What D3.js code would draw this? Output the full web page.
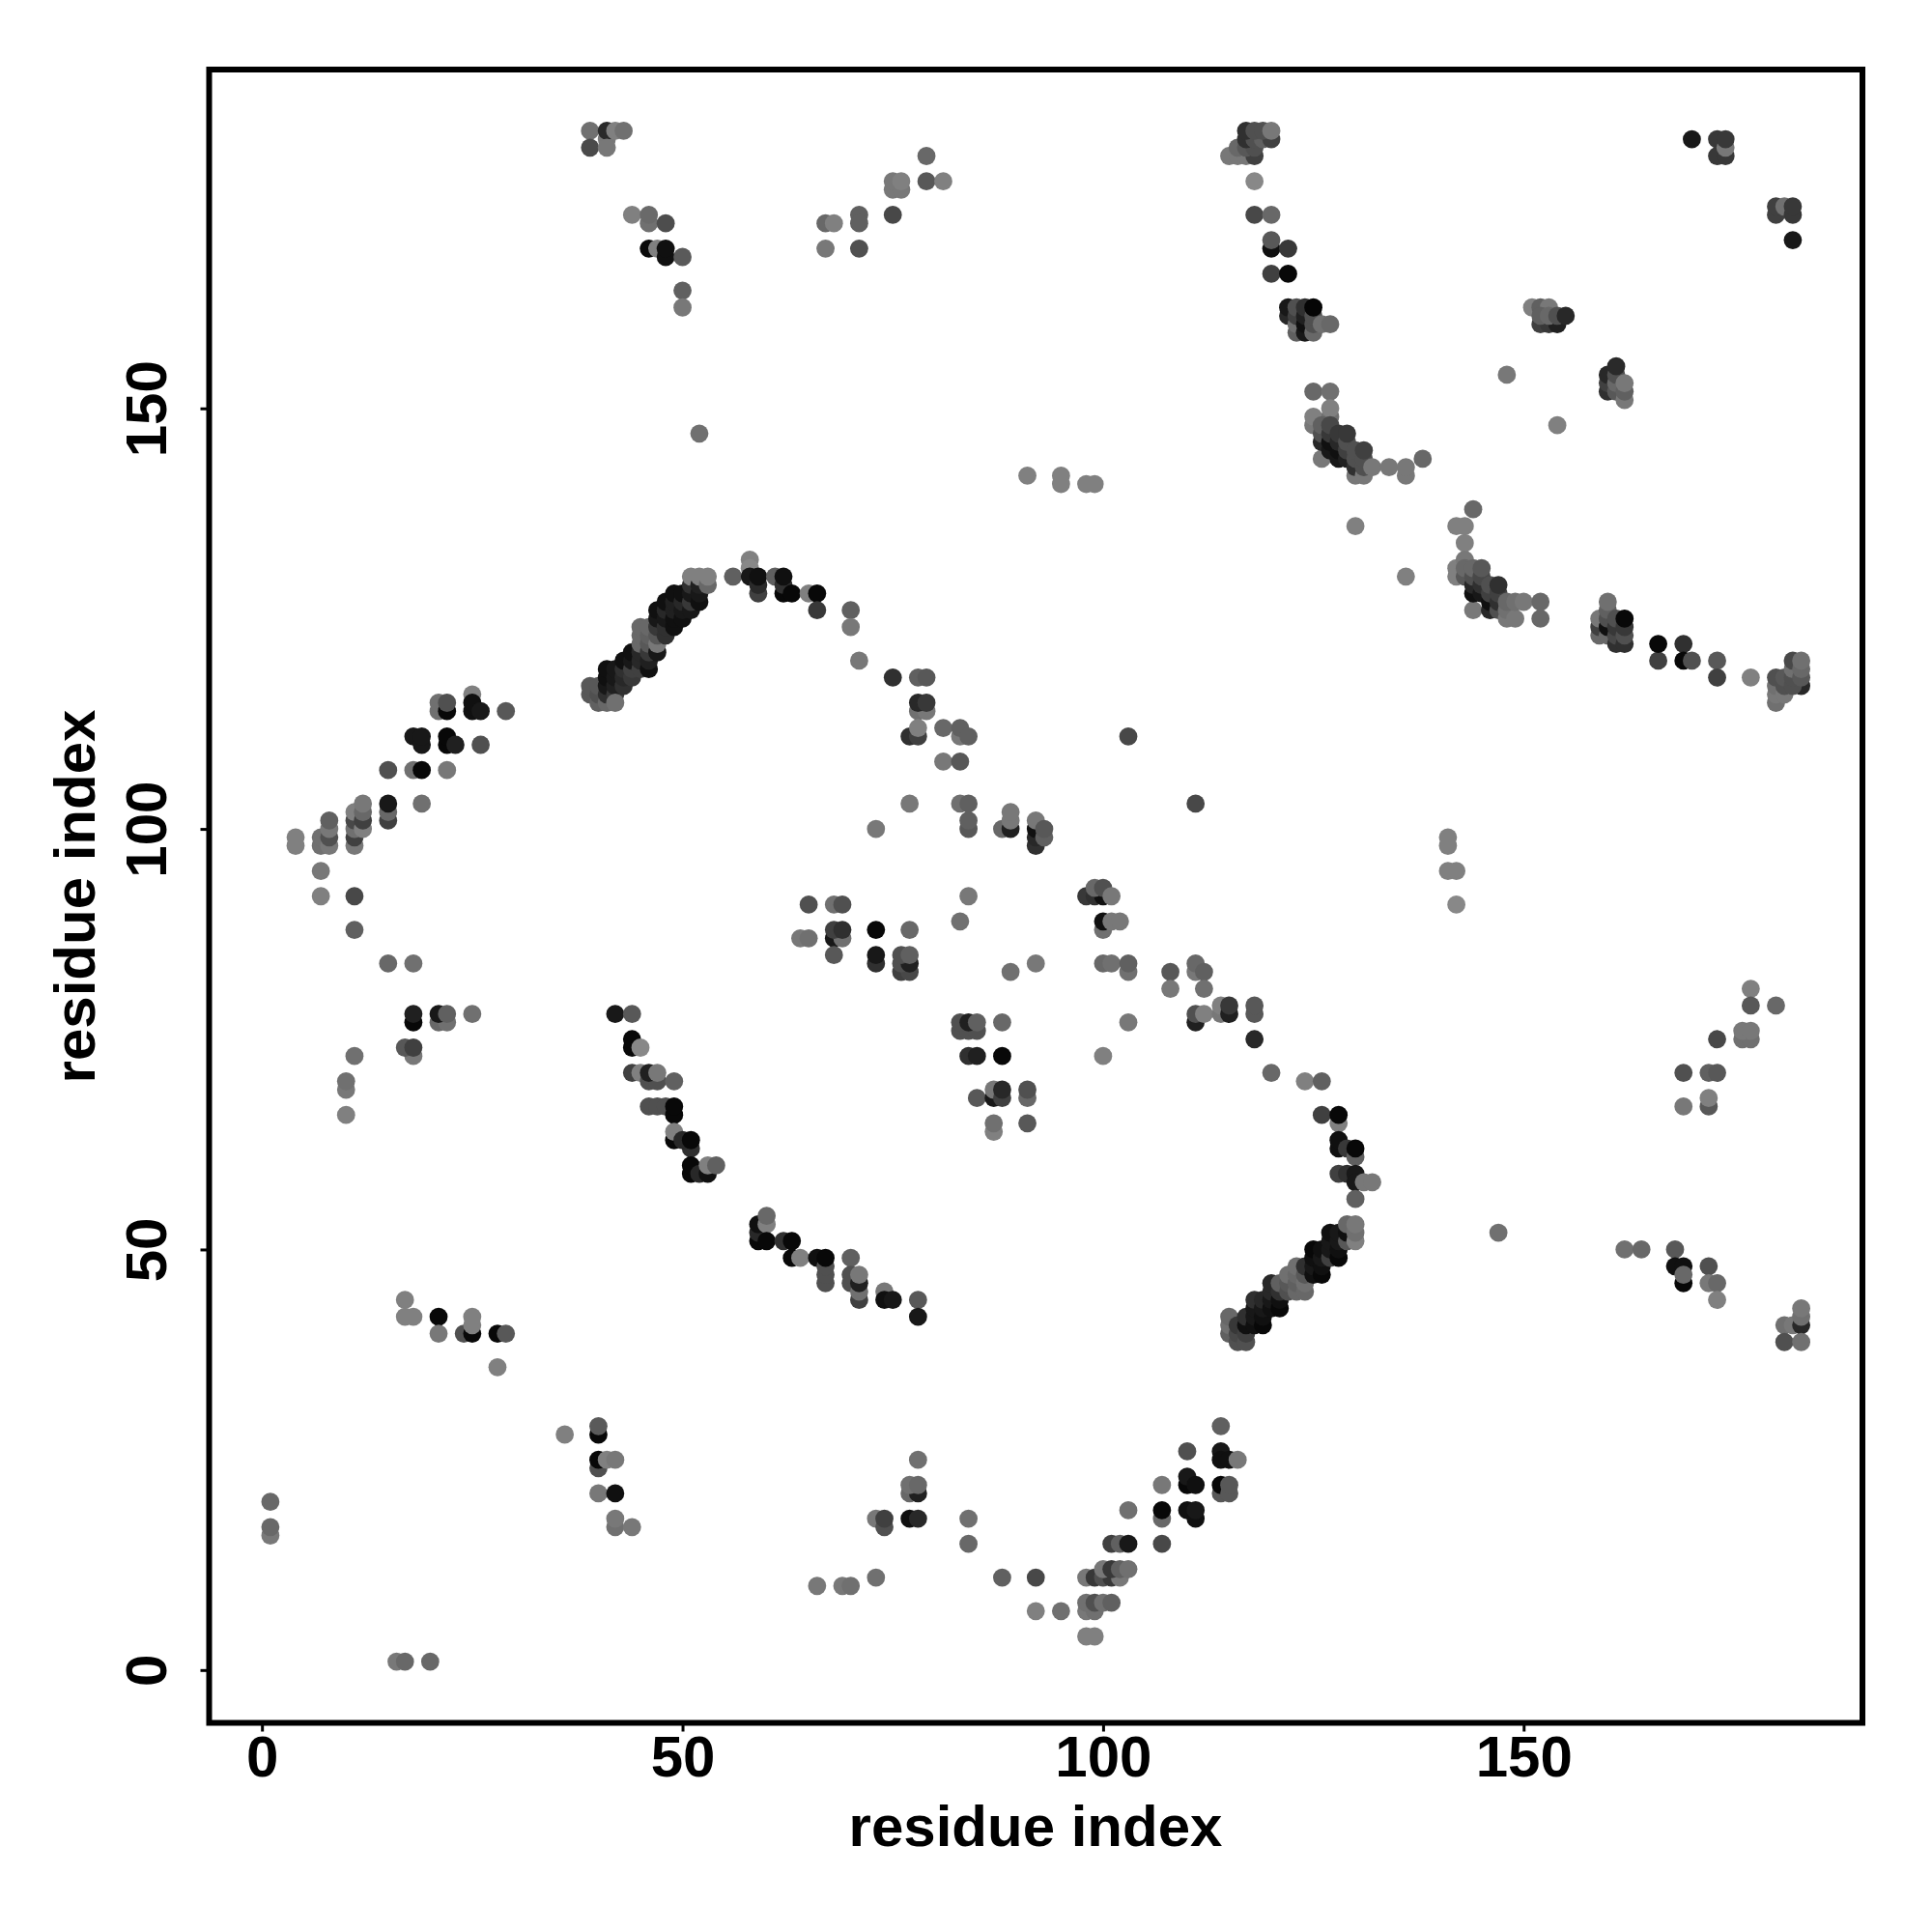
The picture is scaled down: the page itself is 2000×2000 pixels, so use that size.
<!DOCTYPE html>
<html><head><meta charset="utf-8">
<script src="https://cdn.jsdelivr.net/npm/d3@7/dist/d3.min.js"></script>
<style>html,body{margin:0;padding:0;background:#fff}svg{display:block}</style>
</head><body><svg id="c" width="2000" height="2000"></svg>
<script>
// each contact: [residue i, residue j, shade level (0 = black, 255 = white)]
const topLeftContacts = [[39,183,0x70],[41,182,0x78],[41,183,0x2a],[42,183,0x80],[43,183,0x70],[39,181,0x4a],[41,181,0x78],
 [44,173,0x80],[46,172,0x70],[46,173,0x6a],[48,172,0x4d],[46,169,0x0a],[47,169,0x80],[48,168,0x10],[48,169,0x10],[50,168,0x5a],[50,164,0x60],[50,162,0x78],[52,147,0x70]];
const topMiddleContacts = [[67,172,0x68],[68,172,0x80],[71,173,0x60],[71,172,0x60],[67,169,0x78],[71,169,0x50],[75,173,0x48],
 [75,176,0x78],[76,176,0x78],[75,177,0x78],[76,177,0x80],[79,177,0x58],[81,177,0x80],[79,180,0x68],
 [91,142,0x80],[95,141,0x80],[95,142,0x80],[98,141,0x80],[99,141,0x80]];
const cornerContacts = [[115,180,0x78],[116,180,0x78],[117,180,0x78],[118,180,0x40],[116,181,0x68],[117,181,0x58],[118,181,0x50],
 [117,182,0x30],[118,182,0x50],[119,182,0x60],[120,182,0x40],[117,183,0x30],[118,183,0x50],[119,183,0x50],[120,183,0x78],
 [118,177,0x88],[118,173,0x48],[120,173,0x68],[120,169,0x10],[120,170,0x58],[122,169,0x38],[120,166,0x40],[122,166,0x08]];
const shoulderContacts = [[122,161,0x28],[122,162,0x18],[123,159,0x60],[123,160,0x70],[123,161,0x40],[123,162,0x50],[124,159,0x18],[124,160,0x10],[124,161,0x20],[124,162,0x30],
 [125,159,0x68],[125,160,0x50],[125,161,0x50],[125,162,0x05],[126,160,0x70],[127,160,0x68]];
const upperBandContacts = [[125,152,0x68],[127,152,0x70],[125,148,0x78],[125,149,0x80],[127,149,0x70],[127,150,0x80],
 [126,144,0x78],[126,146,0x28],[126,147,0x50],[126,148,0x60],[127,145,0x18],[127,146,0x10],[127,147,0x38],[127,148,0x48],
 [128,144,0x18],[128,145,0x10],[128,146,0x28],[128,147,0x38],[129,144,0x20],[129,145,0x40],[129,146,0x50],[129,147,0x38],
 [130,142,0x78],[130,143,0x30],[130,144,0x50],[130,145,0x50],[131,142,0x78],[131,143,0x50],[131,144,0x50],[131,145,0x40],
 [132,143,0x78],[134,143,0x78],[136,142,0x78],[136,143,0x78],[138,144,0x68],[130,136,0x80],[136,130,0x80]];
const lowerBandContacts = [[144,138,0x68],[142,136,0x80],[143,136,0x80],[143,134,0x80],[142,130,0x80],[142,131,0x80],[143,132,0x78],[143,130,0x58],[143,131,0x68],
 [144,126,0x78],[144,128,0x10],[144,129,0x28],[144,130,0x50],[144,131,0x68],[145,128,0x18],[145,129,0x30],[145,130,0x48],[145,131,0x58],
 [146,126,0x28],[146,127,0x10],[146,128,0x40],[146,129,0x50],[147,126,0x50],[147,127,0x30],[147,128,0x40],[147,129,0x30],
 [148,125,0x78],[148,126,0x70],[148,127,0x68],[149,125,0x78],[149,127,0x70],[150,127,0x78],[152,125,0x68],[152,127,0x68]];
const upperRightContacts = [[148,154,0x78],[154,148,0x80],[151,162,0x80],[152,162,0x60],[153,162,0x78],[152,160,0x40],[153,160,0x38],[154,160,0x20],[152,161,0x60],[153,161,0x68],[154,161,0x50],[155,161,0x28],
 [170,182,0x18],[173,180,0x38],[174,180,0x38],[173,182,0x38],[174,181,0x78],[174,182,0x38],[180,173,0x40],[180,174,0x40],[181,174,0x70],[182,173,0x38],[182,174,0x38],[182,170,0x18],
 [160,152,0x30],[160,153,0x40],[160,154,0x28],[161,152,0x58],[161,153,0x68],[161,154,0x50],[161,155,0x2a],[162,151,0x78],[162,152,0x60],[162,153,0x78]];
const rightTailContacts = [[159,123,0x68],[159,124,0x40],[159,125,0x78],[160,123,0x68],[160,124,0x10],[160,125,0x50],[160,126,0x60],[160,127,0x70],
 [161,122,0x30],[161,123,0x48],[161,124,0x38],[161,125,0x50],[162,122,0x30],[162,123,0x50],[162,124,0x38],[162,125,0x08],
 [166,120,0x40],[166,122,0x08],[169,122,0x30],[169,120,0x08],[170,120,0x50],[173,120,0x58],[173,118,0x40],[177,118,0x80],
 [180,115,0x70],[180,116,0x78],[180,117,0x70],[180,118,0x50],[181,116,0x78],[181,117,0x50],[181,118,0x58],
 [183,117,0x28],[182,117,0x50],[182,118,0x50],[182,119,0x70],[182,120,0x48],[183,118,0x58],[183,119,0x68],[183,120,0x70]];
const rightMiddleContacts = [[141,99,0x80],[141,98,0x80],[141,95,0x80],[142,95,0x80],[142,91,0x88],[177,81,0x80],[177,79,0x58],[180,79,0x68],
 [176,75,0x70],[177,75,0x70],[176,76,0x78],[177,76,0x78],[173,75,0x48],[169,71,0x50],[172,71,0x60],[173,71,0x58],[172,67,0x58],[172,68,0x80],[169,67,0x78],[147,52,0x70],
 [162,50,0x70],[164,50,0x68],[168,50,0x58],[168,48,0x10],[169,48,0x10],[169,46,0x08],[169,47,0x68]];
const lowerRightContacts = [[172,48,0x50],[172,46,0x78],[173,46,0x68],[173,44,0x80],
 [181,41,0x70],[182,41,0x78],[183,41,0x28],[183,42,0x70],[183,43,0x78],[181,39,0x50],[183,39,0x70]];
const ridgeContacts = [[120,71,0x68],[124,70,0x80],[126,70,0x60],[126,66,0x40],[128,65,0x80],[128,66,0x08],[128,62,0x10],[128,63,0x10],[129,62,0x38],[130,61,0x60],[130,62,0x08],
 [128,59,0x40],[129,59,0x30],[130,59,0x18],[130,58,0x18],[131,58,0x78],[132,58,0x78],[130,56,0x60]];
const rightArcContacts = [[115,40,0x60],[115,41,0x70],[115,42,0x68],[116,39,0x50],[116,40,0x48],[116,41,0x38],[117,39,0x50],[117,40,0x40],[117,41,0x10],[117,42,0x30],
 [118,41,0x10],[118,42,0x18],[118,43,0x18],[118,44,0x30],[119,41,0x08],[119,42,0x10],[119,43,0x18],[119,44,0x28],
 [120,43,0x10],[120,44,0x18],[120,45,0x28],[120,46,0x28],[121,43,0x08],[121,44,0x10],[121,45,0x30],[121,46,0x60],
 [122,45,0x50],[122,46,0x58],[122,47,0x70],[123,45,0x68],[123,46,0x60],[123,47,0x68],[123,48,0x70],[124,45,0x68],[124,46,0x70],[124,47,0x58],[124,48,0x30],
 [125,47,0x10],[125,48,0x18],[125,49,0x10],[125,50,0x08],[126,47,0x08],[126,48,0x10],[126,49,0x18],[126,50,0x10],
 [127,49,0x40],[127,50,0x18],[127,51,0x18],[127,52,0x10],[128,49,0x08],[128,50,0x10],[128,51,0x18],[128,52,0x18],
 [129,51,0x58],[129,52,0x10],[129,53,0x68],[130,51,0x80],[130,52,0x70],[130,53,0x78]];
const leftArcContacts = [[39,116,0x58],[39,117,0x58],[40,115,0x60],[40,116,0x50],[40,117,0x58],[41,115,0x68],[41,116,0x30],[41,117,0x18],[41,118,0x10],[41,119,0x10],
 [42,116,0x38],[42,117,0x20],[42,118,0x18],[42,119,0x18],[42,115,0x70],[43,117,0x30],[43,118,0x28],[43,119,0x30],[43,120,0x10],
 [44,118,0x38],[44,119,0x40],[44,120,0x18],[44,121,0x10],[45,119,0x40],[45,120,0x28],[45,121,0x28],[45,122,0x68],[45,123,0x68],[45,124,0x68],
 [46,119,0x10],[46,120,0x20],[46,121,0x38],[46,122,0x58],[46,123,0x60],[46,124,0x68],[47,121,0x18],[47,122,0x78],[47,123,0x58],[47,124,0x38],[47,125,0x18],[47,126,0x10],
 [48,123,0x30],[48,124,0x30],[48,125,0x18],[48,126,0x28],[48,127,0x10],[49,124,0x10],[49,125,0x10],[49,126,0x20],[49,127,0x20],[49,128,0x10],
 [50,125,0x10],[50,126,0x18],[50,127,0x28],[50,128,0x10],[51,126,0x18],[51,127,0x38],[51,128,0x18],[51,129,0x30],[51,130,0x80],
 [52,127,0x10],[52,128,0x18],[52,129,0x20],[52,130,0x80],[53,129,0x68],[53,130,0x80]];
const crestContacts = [[56,130,0x60],[58,132,0x80],[58,131,0x88],[58,130,0x18],[59,128,0x40],[59,129,0x2a],[59,130,0x10],[61,130,0x60],[62,128,0x08],[62,129,0x30],[62,130,0x10],[63,128,0x08],[65,128,0x80],[66,128,0x08],[66,126,0x38],[70,126,0x60],[70,124,0x78],[71,120,0x78],
 [75,118,0x30],[78,118,0x60],[79,118,0x58],[78,114,0x70],[79,114,0x78],[78,115,0x28],[79,115,0x38],[77,111,0x30],[78,111,0x40],[78,112,0x80],[81,112,0x68],[83,111,0x78],[83,112,0x60],[84,111,0x60],[81,108,0x78],[83,108,0x58]];
const centerDescentContacts = [[77,103,0x78],[83,103,0x70],[84,103,0x60],[84,100,0x58],[84,101,0x60],[73,100,0x78],[88,100,0x68],[89,100,0x20],[89,101,0x78],[89,102,0x78],
 [92,98,0x30],[92,99,0x28],[92,100,0x10],[92,101,0x78],[93,99,0x60],[93,100,0x58],[103,111,0x48],[111,103,0x48],[84,92,0x78],[83,89,0x70],
 [98,92,0x38],[99,92,0x30],[100,92,0x10],[99,93,0x68],[100,93,0x50],[101,92,0x78],[100,88,0x70],[100,89,0x10],[101,89,0x78],[102,89,0x78],
 [100,84,0x68],[101,84,0x70],[103,83,0x70],[103,84,0x60],[92,84,0x78],[89,83,0x70],[108,83,0x58],[108,81,0x78],[111,83,0x78],[111,84,0x68],[112,83,0x60],[112,81,0x70],
 [111,77,0x20],[111,78,0x50],[112,78,0x80],[114,78,0x78],[114,79,0x80],[115,78,0x20],[115,79,0x38],[118,78,0x58],[118,79,0x58],[118,75,0x28],[103,77,0x78],[100,73,0x80]];
const centerBlockContacts = [[65,91,0x50],[68,91,0x70],[69,91,0x50],[64,87,0x78],[65,87,0x70],[68,87,0x18],[69,87,0x70],[68,88,0x40],[69,88,0x30],[68,85,0x58],
 [73,88,0x08],[77,88,0x68],[73,84,0x30],[73,85,0x18],[76,83,0x40],[77,83,0x48],[76,84,0x50],[77,84,0x20],[76,85,0x50],[77,85,0x60],
 [83,76,0x50],[84,76,0x50],[85,76,0x50],[83,77,0x50],[84,77,0x20],[85,77,0x60],[88,77,0x68],[84,73,0x30],[85,73,0x20],[88,73,0x08],
 [85,68,0x58],[87,68,0x18],[87,69,0x78],[88,68,0x40],[88,69,0x28],[91,68,0x68],[91,69,0x50],[87,64,0x80],[87,65,0x70],[91,65,0x58]];
const leftBranchContacts = [[25,116,0x80],[21,114,0x70],[21,115,0x70],[22,114,0x08],[22,115,0x50],[25,114,0x10],[25,115,0x10],[26,114,0x18],[29,114,0x58],
 [18,111,0x18],[19,110,0x18],[19,111,0x18],[22,110,0x08],[22,111,0x08],[23,110,0x20],[26,110,0x50],[15,107,0x50],[18,107,0x70],[19,107,0x08],[22,107,0x78],
 [15,101,0x40],[15,102,0x68],[15,103,0x18],[19,103,0x70],[11,98,0x78],[11,99,0x40],[11,100,0x70],[11,101,0x48],[11,102,0x80],[12,100,0x80],[12,101,0x40],[12,102,0x68],[12,103,0x78],
 [7,98,0x70],[7,99,0x70],[8,98,0x78],[8,99,0x50],[8,100,0x78],[8,101,0x60],[4,98,0x80],[4,99,0x80],[7,95,0x78],[7,92,0x80],[11,92,0x48],[11,88,0x60],[15,84,0x68],[18,84,0x70],
 [18,77,0x08],[18,78,0x20],[21,77,0x68],[22,77,0x70],[21,78,0x18],[22,78,0x60],[25,78,0x70],[18,73,0x78],[17,74,0x58],[18,74,0x40],[11,73,0x70],[10,69,0x78],[10,70,0x70],[10,66,0x80]];
const leftDescentContacts = [[42,78,0x18],[44,78,0x58],[44,74,0x08],[44,75,0x08],[45,74,0x88],[44,71,0x40],[45,71,0x80],[46,70,0x50],[47,70,0x50],[46,71,0x20],[47,71,0x78],[49,70,0x60],
 [46,67,0x50],[47,67,0x50],[48,67,0x50],[49,66,0x08],[49,67,0x08],[49,63,0x08],[49,64,0x80],[51,62,0x30],[50,63,0x28],[51,63,0x08],
 [51,59,0x08],[51,60,0x08],[52,59,0x28],[53,59,0x10],[53,60,0x80],[54,60,0x60]];
const lowerLeftContacts = [[59,51,0x08],[59,52,0x28],[59,53,0x10],[60,53,0x80],[60,54,0x68],[60,51,0x08],[62,51,0x30],[63,49,0x08],[63,51,0x08],[64,49,0x80],[66,49,0x10],[67,46,0x50],[67,47,0x50],[67,48,0x50],[67,49,0x08],
 [70,49,0x60],[70,46,0x50],[70,47,0x50],[71,44,0x40],[71,45,0x70],[71,46,0x20],[71,47,0x78],[74,45,0x78],[74,44,0x10],[75,44,0x18],[78,44,0x58],[78,42,0x18]];
const farLeftContacts = [[17,44,0x80],[17,42,0x80],[18,42,0x80],[21,42,0x08],[21,40,0x78],[24,40,0x50],[25,40,0x08],[25,41,0x80],[25,42,0x80],[28,40,0x08],[29,40,0x58],[28,36,0x80],
 [36,28,0x80],[40,28,0x08],[40,29,0x5a],[40,24,0x50],[40,25,0x08],[41,25,0x80],[42,25,0x78],[40,21,0x78],[42,21,0x10],[42,17,0x70],[42,18,0x78],[44,17,0x78],
 [1,20,0x68],[1,16,0x78],[1,17,0x68],[16,1,0x78],[17,1,0x68],[20,1,0x68]];
const bottomContacts = [[114,29,0x60],[110,26,0x50],[114,26,0x18],[114,25,0x10],[115,25,0x10],[116,25,0x78],[114,21,0x58],[114,22,0x08],[115,21,0x58],[115,22,0x58],
 [110,22,0x08],[110,23,0x18],[111,22,0x10],[110,19,0x10],[111,18,0x10],[111,19,0x18],[107,22,0x78],[107,18,0x68],[107,19,0x08],[107,15,0x48],[103,19,0x70],
 [101,15,0x40],[102,15,0x60],[103,15,0x18],[98,11,0x78],[99,11,0x38],[100,11,0x50],[101,11,0x38],[102,11,0x78],[100,12,0x78],[101,12,0x38],[102,12,0x60],[103,12,0x70],
 [98,7,0x78],[99,7,0x70],[98,8,0x70],[99,8,0x50],[100,8,0x70],[101,8,0x60],[98,4,0x80],[99,4,0x80],[95,7,0x70],[92,7,0x80],[92,11,0x48],[88,11,0x60],[84,18,0x70],[84,15,0x68],
 [78,25,0x70],[77,21,0x68],[78,21,0x20],[77,22,0x70],[78,22,0x68],[77,18,0x10],[78,18,0x28],[73,18,0x78],[74,17,0x50],[74,18,0x40],[73,11,0x70],[66,10,0x78],[69,10,0x78],[70,10,0x70]];

const xTickValues = [0, 50, 100, 150];
const yTickValues = [0, 50, 100, 150];
const xAxisLabel = "residue index";
const yAxisLabel = "residue index";

const allContacts = [topLeftContacts, topMiddleContacts, cornerContacts, shoulderContacts, upperBandContacts, lowerBandContacts, upperRightContacts,
  rightTailContacts, rightMiddleContacts, lowerRightContacts, ridgeContacts, rightArcContacts, leftArcContacts, crestContacts, centerDescentContacts,
  centerBlockContacts, leftBranchContacts, leftDescentContacts, lowerLeftContacts, farLeftContacts, bottomContacts].flat();

const frame = {left: 216.5, right: 1928, top: 72, bottom: 1783.5};
const domain = [-6.28, 190.28];
const x = d3.scaleLinear().domain(domain).range([frame.left, frame.right]);
const y = d3.scaleLinear().domain(domain).range([frame.bottom, frame.top]);
const shade = d3.scaleLinear().domain([0, 255]).range(["#000000", "#ffffff"]);

const svg = d3.select("#c");
svg.append("rect").attr("width", 2000).attr("height", 2000).attr("fill", "#fff");

svg.append("g").selectAll("circle").data(allContacts).join("circle")
  .attr("cx", d => x(d[0])).attr("cy", d => y(d[1])).attr("r", 9.4)
  .attr("fill", d => shade(d[2]));

const font = "'Liberation Sans', Arial, sans-serif";

const gx = svg.append("g").attr("transform", `translate(0,${frame.bottom})`)
  .call(d3.axisBottom(x).tickValues(xTickValues).tickFormat(d3.format("d")).tickSizeOuter(0).tickSize(9).tickPadding(9));
const gy = svg.append("g").attr("transform", `translate(${frame.left},0)`)
  .call(d3.axisLeft(y).tickValues(yTickValues).tickFormat(d3.format("d")).tickSizeOuter(0).tickSize(9));
[gx, gy].forEach(g => {
  g.select(".domain").remove();
  g.selectAll(".tick line").attr("stroke", "#000").attr("stroke-width", 3);
  g.selectAll("text").attr("fill", "#000").attr("font-family", font).attr("font-weight", "700").attr("font-size", 60);
});
gx.selectAll("text").attr("dy", null).attr("y", 0).attr("dominant-baseline", "alphabetic").attr("transform", "translate(0,55)");
gy.selectAll("text").attr("x", 0).attr("dy", null).attr("text-anchor", "middle")
  .attr("transform", "translate(-45,0) rotate(-90)");

svg.append("rect").attr("x", frame.left).attr("y", frame.top)
  .attr("width", frame.right - frame.left).attr("height", frame.bottom - frame.top)
  .attr("fill", "none").attr("stroke", "#000").attr("stroke-width", 6);

svg.append("text").attr("x", 1072).attr("y", 1911).attr("text-anchor", "middle")
  .attr("font-family", font).attr("font-weight", "700").attr("font-size", 60).text(xAxisLabel);
svg.append("text").attr("transform", "translate(98,928) rotate(-90)").attr("text-anchor", "middle")
  .attr("font-family", font).attr("font-weight", "700").attr("font-size", 60).text(yAxisLabel);
</script></body></html>
